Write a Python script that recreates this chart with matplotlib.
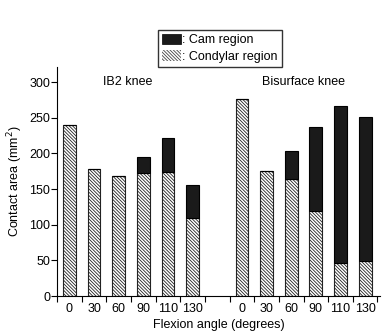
import numpy as np
import matplotlib.pyplot as plt
from matplotlib.patches import Patch

plt.rcParams['font.family'] = ['Liberation Sans', 'DejaVu Sans']
plt.rcParams['hatch.linewidth'] = 0.6

angles = ['0', '30', '60', '90', '110', '130']
# total contact area and condylar part, mm^2
ib2_total = [240, 178, 169, 195, 221, 156]
ib2_condylar = [240, 178, 169, 172, 174, 110]
bis_total = [277, 175, 204, 237, 267, 251]
bis_condylar = [277, 175, 164, 119, 47, 49]

fig = plt.figure(figsize=(3.83, 3.36), dpi=100)
ax = fig.add_axes([0.149, 0.119, 0.843, 0.681])

x1 = np.arange(6) + 0.5
x2 = np.arange(6) + 7.5
w = 0.52
hatch = '\\' * 10

for xs, tot, con in [(x1, ib2_total, ib2_condylar), (x2, bis_total, bis_condylar)]:
    cam = np.array(tot) - np.array(con)
    ax.bar(xs, con, w, color='white', edgecolor='#222222', hatch=hatch, linewidth=0.8)
    ax.bar(xs, cam, w, bottom=con, color='#1a1a1a', edgecolor='black', linewidth=0.8)

ax.set_xlim(0, 13.1)
ax.set_ylim(0, 321)
ax.set_yticks(range(0, 301, 50))
ax.set_xticks(np.arange(0, 14))
ax.set_xticklabels([])
ax.set_xticks(np.concatenate([x1, x2]), minor=True)
ax.set_xticklabels(angles + angles, minor=True)
ax.tick_params(axis='x', which='minor', length=0, pad=5, labelsize=9)
ax.tick_params(axis='x', which='major', length=4, width=0.8)
ax.tick_params(axis='y', length=4, width=0.8, labelsize=9, pad=1)
for s in ['top', 'right']:
    ax.spines[s].set_visible(False)
ax.spines['left'].set_linewidth(0.8)
ax.spines['bottom'].set_linewidth(0.8)

ax.text(2.85, 300, 'IB2 knee', ha='center', va='center', fontsize=9)
ax.text(10, 300, 'Bisurface knee', ha='center', va='center', fontsize=9)

ax.set_ylabel('Contact area (mm$^2$)', fontsize=9, labelpad=3)
ax.set_xlabel('Flexion angle (degrees)', fontsize=9, labelpad=3)

handles = [Patch(facecolor='#1a1a1a', edgecolor='black', linewidth=0.5),
           Patch(facecolor='white', edgecolor='#444444', hatch=hatch, linewidth=0)]
fig.legend(handles, [': Cam region', ': Condylar region'], loc='upper left',
           bbox_to_anchor=(0.412, 0.912), fontsize=9, frameon=True, fancybox=False,
           edgecolor='black', handlelength=1.5, handleheight=0.9, handletextpad=0.1,
           borderpad=0.35, labelspacing=0.3, borderaxespad=0)

fig.savefig('out.png', dpi=100)
